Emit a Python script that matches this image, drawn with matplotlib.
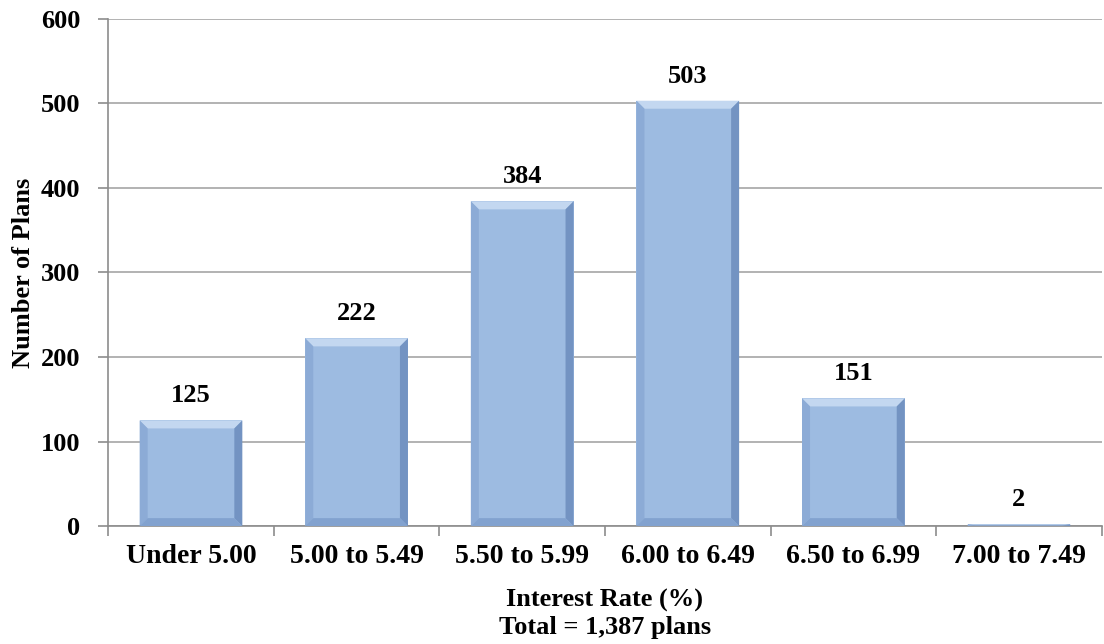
import numpy as np
import matplotlib.pyplot as plt
from matplotlib.patches import Polygon

plt.rcParams['font.family'] = ['Liberation Serif', 'DejaVu Serif']
plt.rcParams['font.weight'] = 'bold'

categories = ['Under 5.00', '5.00 to 5.49', '5.50 to 5.99',
              '6.00 to 6.49', '6.50 to 6.99', '7.00 to 7.49']
plans = [125, 222, 384, 503, 151, 2]

fig = plt.figure(figsize=(11.04, 6.44), dpi=100)
ax = fig.add_axes([0.098, 0.183, 0.9, 0.788])

x = np.arange(len(categories))
width = 0.62
face = '#9dbbe1'
bars = ax.bar(x, plans, width=width, color=face, edgecolor='none', zorder=2)

ax.set_xlim(-0.5, len(categories) - 0.5)
ax.set_ylim(0, 600)
ax.set_yticks(range(0, 601, 100))

# bevel edges around each bar (about 8 px wide)
fig.canvas.draw()
px_x = 1.0 / (ax.transData.transform((1, 0))[0] - ax.transData.transform((0, 0))[0])
px_y = 1.0 / (ax.transData.transform((0, 1))[1] - ax.transData.transform((0, 0))[1])
for b, v in zip(bars, plans):
    x0 = b.get_x()
    x1 = x0 + b.get_width()
    h = v
    bx = 8 * px_x
    by = min(8 * px_y, h / 2)
    # top (light)
    ax.add_patch(Polygon([(x0, h), (x1, h), (x1 - bx, h - by), (x0 + bx, h - by)],
                         closed=True, fc='#c3d7f0', ec='none', zorder=3))
    # left
    ax.add_patch(Polygon([(x0, h), (x0 + bx, h - by), (x0 + bx, by), (x0, 0)],
                         closed=True, fc='#8cabd6', ec='none', zorder=3))
    # right (dark)
    ax.add_patch(Polygon([(x1, h), (x1 - bx, h - by), (x1 - bx, by), (x1, 0)],
                         closed=True, fc='#7393c2', ec='none', zorder=3))
    # bottom
    ax.add_patch(Polygon([(x0, 0), (x1, 0), (x1 - bx, by), (x0 + bx, by)],
                         closed=True, fc='#82a2cf', ec='none', zorder=3))
    ax.annotate(f'{v}', (b.get_x() + b.get_width() / 2, h), xytext=(0, 13),
                textcoords='offset points', ha='center', va='baseline',
                fontsize=19, fontweight='bold')

ax.yaxis.grid(True, color='#a6a6a6', lw=1.2, zorder=0)
ax.set_axisbelow(True)
for s in ['top', 'right']:
    ax.spines[s].set_visible(False)
ax.spines['left'].set_color('#8c8c8c')
ax.spines['bottom'].set_color('#8c8c8c')
ax.spines['left'].set_linewidth(1.2)
ax.spines['bottom'].set_linewidth(1.2)

ax.set_xticks(x)
ax.set_xticklabels(categories, fontsize=20, fontweight='bold')
ax.set_xticks(np.arange(-0.5, len(categories)), minor=True)
ax.tick_params(axis='x', which='major', length=0, pad=13)
ax.tick_params(axis='x', which='minor', length=7, color='#8c8c8c', width=1.2)
ax.tick_params(axis='y', length=7, color='#8c8c8c', width=1.2, labelsize=19, pad=13)

ax.set_ylabel('Number of Plans', fontsize=19, fontweight='bold', labelpad=4)
ax.set_xlabel('Interest Rate (%)\nTotal = 1,387 plans', fontsize=19,
              fontweight='bold', labelpad=14, linespacing=1.25)

fig.savefig('out.png', dpi=100)
